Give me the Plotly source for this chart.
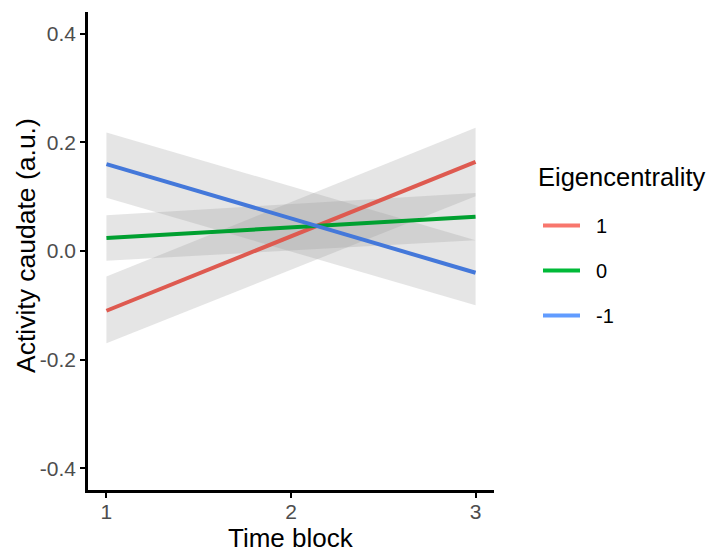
import plotly.graph_objects as go

time_block = [1, 3]
groups = ["1", "0", "-1"]
legend_colors = ["#F8766D", "#00BA38", "#619CFF"]
line_colors = ["#DE5A50", "#00A030", "#4478DA"]
fit_1 = [-0.110, 0.164]
low_1 = [-0.170, 0.101]
high_1 = [-0.047, 0.227]
fit_0 = [0.024, 0.063]
low_0 = [-0.018, 0.020]
high_0 = [0.066, 0.107]
fit_m1 = [0.160, -0.040]
low_m1 = [0.098, -0.100]
high_m1 = [0.218, 0.020]

fits = [fit_1, fit_0, fit_m1]
lows = [low_1, low_0, low_m1]
highs = [high_1, high_0, high_m1]

y_ticks = [-0.4, -0.2, 0.0, 0.2, 0.4]
y_tick_text = ["-0.4", "-0.2", "0.0", "0.2", "0.4"]
x_ticks = [1, 2, 3]

# page has an 8px body margin: figure div starts at (8, 8)
W, H = 708, 546
L, R, T, B = 80, 222, 4, 64
PW, PH = W - L - R, H - T - B


def px_x(page_x):
    return (page_x - 8 - L) / PW


def px_y(page_y):
    return (H - B - (page_y - 8)) / PH


fig = go.Figure()
for g, lo, hi in zip(groups, lows, highs):
    fig.add_trace(go.Scatter(x=time_block + time_block[::-1], y=hi + lo[::-1],
                             mode="lines", fill="toself",
                             fillcolor="rgba(150,150,150,0.25)",
                             line=dict(width=0), showlegend=False,
                             hoverinfo="skip"))
for g, c, f in zip(groups, line_colors, fits):
    fig.add_trace(go.Scatter(x=time_block, y=f, mode="lines", name=g,
                             line=dict(color=c, width=4),
                             showlegend=False))
for g, c in zip(groups, legend_colors):
    fig.add_trace(go.Scatter(x=[None], y=[None], mode="lines",
                             name="\u00a0\u00a0" + g,
                             line=dict(color=c, width=4),
                             legendgroup=g, showlegend=True))

fig.add_annotation(text="Eigencentrality", xref="paper", yref="paper",
                   x=px_x(536), y=px_y(177),
                   xanchor="left", yanchor="middle", showarrow=False,
                   font=dict(size=25.5, color="black"))
fig.add_annotation(text="Time block", xref="paper", yref="paper",
                   x=px_x(291), y=px_y(538),
                   xanchor="center", yanchor="middle", showarrow=False,
                   font=dict(size=26, color="black"))
fig.add_annotation(text="Activity caudate (a.u.)", xref="paper", yref="paper",
                   x=px_x(26), y=px_y(246), textangle=-90,
                   xanchor="center", yanchor="middle", showarrow=False,
                   font=dict(size=26.5, color="black"))

fig.update_layout(
    width=W, height=H,
    margin=dict(l=L, r=R, t=T, b=B),
    paper_bgcolor="white", plot_bgcolor="white",
    font=dict(family="Liberation Sans, Arial, sans-serif", color="black"),
    showlegend=True,
    legend=dict(
        font=dict(size=20, color="black"),
        x=px_x(538), xanchor="left", y=px_y(206), yanchor="top",
        traceorder="grouped", tracegroupgap=16, itemwidth=37,
        bgcolor="rgba(0,0,0,0)",
    ),
    xaxis=dict(
        range=[0.9, 3.1], tickvals=x_ticks, ticktext=[str(v) for v in x_ticks],
        showgrid=False, zeroline=False, showline=True, linecolor="black", linewidth=2.5,
        ticks="outside", ticklen=5, tickwidth=2, tickcolor="black",
        tickfont=dict(size=21, color="#4d4d4d"), automargin=False,
        ticklabelstandoff=-4,
    ),
    yaxis=dict(
        range=[-0.44, 0.44], tickvals=y_ticks, ticktext=y_tick_text,
        showgrid=False, zeroline=False, showline=True, linecolor="black", linewidth=2.5,
        ticks="outside", ticklen=5, tickwidth=2, tickcolor="black",
        tickfont=dict(size=21, color="#4d4d4d"), automargin=False,
    ),
)

fig.write_html("out.html")
